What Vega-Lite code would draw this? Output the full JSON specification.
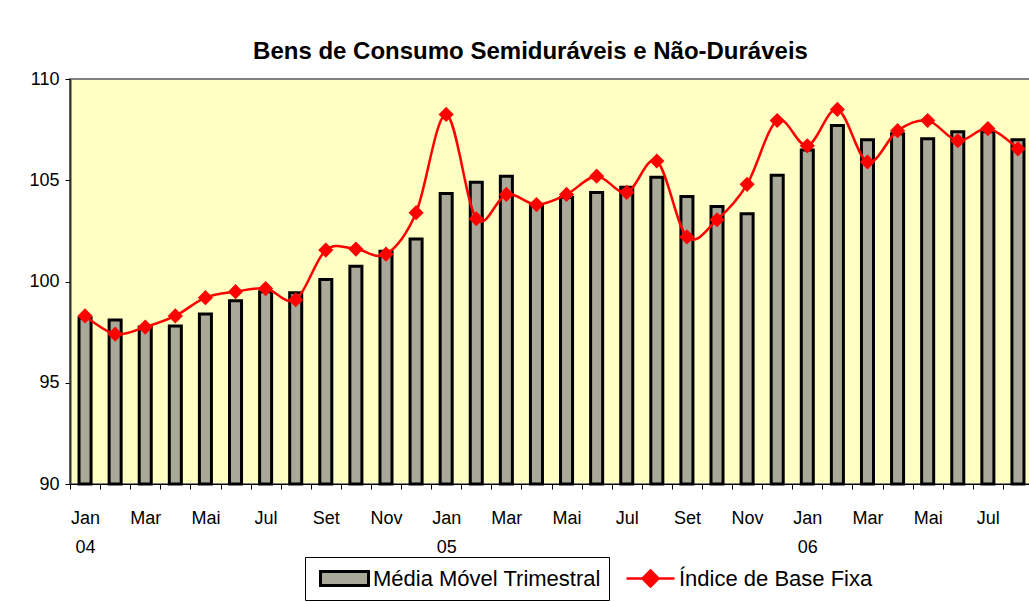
{
  "$schema": "https://vega.github.io/schema/vega-lite/v6.json",
  "width": 963,
  "height": 405,
  "autosize": {"type": "none"},
  "padding": {"left": 70, "top": 79, "right": 0, "bottom": 118},
  "background": "white",
  "config": {
    "view": {"fill": "#FFFFC4", "stroke": "#808080", "strokeWidth": 2},
    "font": "Liberation Sans"
  },
  "title": {
    "text": "Bens de Consumo Semiduráveis e Não-Duráveis",
    "font": "Liberation Sans",
    "fontSize": 24,
    "fontWeight": "bold",
    "color": "#000000",
    "anchor": "middle",
    "dx": -21,
    "offset": 6
  },
  "data": {
    "values": [
      {"mes": "Jan 04", "mm": 98.2, "ib": 98.3},
      {"mes": "Fev 04", "mm": 98.1, "ib": 97.4},
      {"mes": "Mar 04", "mm": 97.75, "ib": 97.75},
      {"mes": "Abr 04", "mm": 97.8, "ib": 98.3},
      {"mes": "Mai 04", "mm": 98.4, "ib": 99.2},
      {"mes": "Jun 04", "mm": 99.05, "ib": 99.5},
      {"mes": "Jul 04", "mm": 99.5, "ib": 99.65},
      {"mes": "Ago 04", "mm": 99.45, "ib": 99.1},
      {"mes": "Set 04", "mm": 100.1, "ib": 101.55},
      {"mes": "Out 04", "mm": 100.75, "ib": 101.6},
      {"mes": "Nov 04", "mm": 101.5, "ib": 101.35},
      {"mes": "Dez 04", "mm": 102.1, "ib": 103.4},
      {"mes": "Jan 05", "mm": 104.35, "ib": 108.25},
      {"mes": "Fev 05", "mm": 104.9, "ib": 103.1},
      {"mes": "Mar 05", "mm": 105.2, "ib": 104.3},
      {"mes": "Abr 05", "mm": 103.75, "ib": 103.8},
      {"mes": "Mai 05", "mm": 104.15, "ib": 104.3},
      {"mes": "Jun 05", "mm": 104.4, "ib": 105.2},
      {"mes": "Jul 05", "mm": 104.65, "ib": 104.4},
      {"mes": "Ago 05", "mm": 105.15, "ib": 105.95},
      {"mes": "Set 05", "mm": 104.2, "ib": 102.2},
      {"mes": "Out 05", "mm": 103.7, "ib": 103.05},
      {"mes": "Nov 05", "mm": 103.35, "ib": 104.8},
      {"mes": "Dez 05", "mm": 105.25, "ib": 107.95},
      {"mes": "Jan 06", "mm": 106.5, "ib": 106.7},
      {"mes": "Fev 06", "mm": 107.7, "ib": 108.5},
      {"mes": "Mar 06", "mm": 107.0, "ib": 105.9},
      {"mes": "Abr 06", "mm": 107.3, "ib": 107.45},
      {"mes": "Mai 06", "mm": 107.05, "ib": 107.95},
      {"mes": "Jun 06", "mm": 107.4, "ib": 106.95},
      {"mes": "Jul 06", "mm": 107.4, "ib": 107.55},
      {"mes": "Ago 06", "mm": 107.0, "ib": 106.55}
    ]
  },
  "encoding": {
    "x": {
      "field": "mes",
      "type": "ordinal",
      "sort": null,
      "scale": {"paddingInner": 0.6, "paddingOuter": 0.3},
      "axis": {
        "title": null,
        "labelAngle": 0,
        "labelOverlap": false,
        "labelFlush": false,
        "tickSize": 5,
        "tickOffset": -15,
        "labelOffset": 15,
        "tickColor": "#000000",
        "domainColor": "#000000",
        "labelFont": "Liberation Sans",
        "labelFontSize": 18,
        "labelColor": "#000000",
        "labelPadding": 20,
        "labelLineHeight": 29,
        "labelExpr": "slice(datum.value,0,3) == 'Jan' ? split(datum.value, ' ') : ((slice(datum.value,0,3) == 'Mar' || slice(datum.value,0,3) == 'Mai' || slice(datum.value,0,3) == 'Jul' || slice(datum.value,0,3) == 'Set' || slice(datum.value,0,3) == 'Nov') ? slice(datum.value,0,3) : '')"
      }
    }
  },
  "layer": [
    {
      "mark": {"type": "bar", "stroke": "#000000", "strokeWidth": 3},
      "encoding": {
        "y": {
          "field": "mm",
          "type": "quantitative",
          "scale": {"domain": [90, 110], "nice": false, "zero": false},
          "axis": {
            "title": null,
            "values": [90, 95, 100, 105, 110],
            "grid": false,
            "tickSize": 5,
            "tickColor": "#000000",
            "domainColor": "#333333",
            "domainWidth": 2,
            "labelFont": "Liberation Sans",
            "labelFontSize": 18,
            "labelColor": "#000000",
            "labelPadding": 6
          }
        },
        "y2": {"datum": 90},
        "fill": {
          "datum": "Média Móvel Trimestral",
          "scale": {"range": ["#A9A99A"]},
          "legend": {
            "title": null,
            "orient": "none",
            "direction": "horizontal",
            "legendX": 235,
            "legendY": 478,
            "strokeColor": "#000000",
            "padding": 8,
            "symbolType": "M-0.5,-0.58L3.5,-0.58L3.5,0.58L-0.5,0.58Z",
            "symbolSize": 576,
            "symbolStrokeColor": "#000000",
            "symbolStrokeWidth": 3,
            "labelOffset": 33,
            "labelFont": "Liberation Sans",
            "labelFontSize": 22,
            "labelColor": "#000000",
            "labelLimit": 600,
            "labelExpr": "datum.label + '\u00a0\u00a0\u00a0\u00a0\u00a0\u00a0\u00a0\u00a0\u00a0\u00a0\u00a0\u00a0\u00a0\u00a0\u00a0\u00a0\u00a0\u00a0\u00a0\u00a0\u00a0\u00a0\u00a0\u00a0\u00a0\u00a0\u00a0\u00a0\u00a0\u00a0\u00a0\u00a0\u00a0\u00a0\u00a0\u00a0\u00a0\u00a0\u00a0\u00a0\u00a0\u00a0\u00a0\u00a0'"
          }
        }
      }
    },
    {
      "mark": {"type": "line", "interpolate": "cardinal", "strokeWidth": 2.5},
      "encoding": {
        "y": {"field": "ib", "type": "quantitative"},
        "stroke": {
          "datum": "Índice de Base Fixa",
          "scale": {"range": ["#FF0000"]},
          "legend": {
            "title": null,
            "orient": "none",
            "direction": "horizontal",
            "legendX": 541,
            "legendY": 478,
            "padding": 8,
            "symbolType": "M-0.5,0L3.5,0M1.5,-0.67L2.17,0L1.5,0.67L0.83,0Z",
            "symbolSize": 576,
            "symbolFillColor": "#FF0000",
            "symbolStrokeWidth": 2.5,
            "labelOffset": 33,
            "labelFont": "Liberation Sans",
            "labelFontSize": 22,
            "labelColor": "#000000",
            "labelLimit": 600
          }
        }
      }
    },
    {
      "mark": {"type": "point", "shape": "diamond", "size": 230, "filled": true, "color": "#FF0000", "opacity": 1},
      "encoding": {
        "y": {"field": "ib", "type": "quantitative"}
      }
    }
  ]
}
